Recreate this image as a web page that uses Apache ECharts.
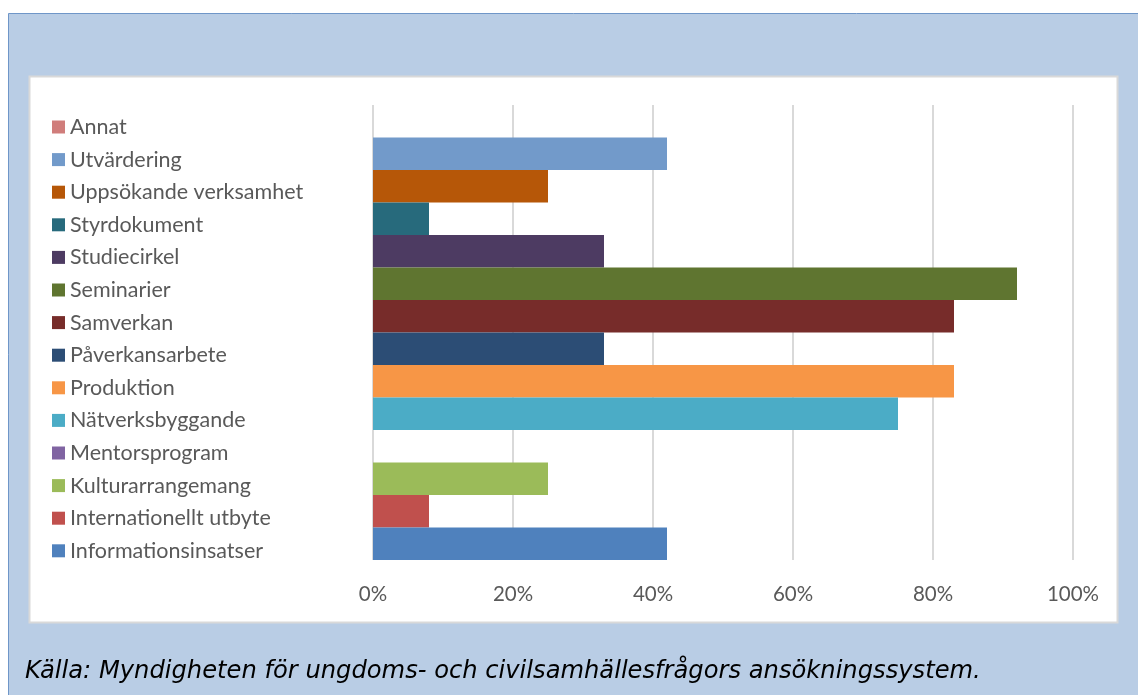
<!DOCTYPE html>
<html>
<head>
<meta charset="utf-8">
<script src="https://cdn.jsdelivr.net/npm/echarts@6/dist/echarts.min.js"></script>
<style>
  html, body { margin: 0; padding: 0; background: #fff; }
  #chart { width: 1138px; height: 695px; }
</style>
</head>
<body>
<div id="chart"></div>
<script>
// kategorier uppifrån och ned, som i förklaringen
const categories = [
  'Annat', 'Utvärdering', 'Uppsökande verksamhet', 'Styrdokument', 'Studiecirkel',
  'Seminarier', 'Samverkan', 'Påverkansarbete', 'Produktion', 'Nätverksbyggande',
  'Mentorsprogram', 'Kulturarrangemang', 'Internationellt utbyte', 'Informationsinsatser'
]
// andel i procent
const values = [0, 42, 25, 8, 33, 92, 83, 33, 83, 75, 0, 25, 8, 42]
const colors = [
  '#D07D7B', '#729ACA', '#B65708', '#276A7C', '#4D3B62',
  '#5F7530', '#772C2A', '#2C4D75', '#F79646', '#4BACC6',
  '#8064A2', '#9BBB59', '#C0504D', '#4F81BD'
]
const xTicks = { min: 0, max: 100, interval: 20 }
const caption = 'Källa: Myndigheten för ungdoms- och civilsamhällesfrågors ansökningssystem.'

const chart = echarts.init(document.getElementById('chart'))

const series = categories.map((name, i) => ({
  name: name,
  type: 'bar',
  barGap: '0%',
  barCategoryGap: '0%',
  itemStyle: { color: colors[i] },
  data: [values[i]]
}))

chart.setOption({
  animation: false,
  color: colors,
  graphic: [
    {
      type: 'rect', z: -10,
      shape: { x: 8.5, y: 13.5, width: 1140, height: 700 },
      style: { fill: '#B9CDE5', stroke: '#6F96C8', lineWidth: 1 }
    },
    {
      type: 'rect', z: -9,
      shape: { x: 29.5, y: 76.5, width: 1088, height: 546 },
      style: { fill: '#FFFFFF', stroke: '#D9D9D9', lineWidth: 2 }
    },
    {
      type: 'text', left: 25, top: 660,
      style: {
        text: caption,
        fill: '#000',
        font: 'italic 24.2px "DejaVu Sans"'
      }
    }
  ],
  legend: {
    orient: 'vertical',
    left: 47,
    top: 111,
    icon: 'rect',
    itemWidth: 13,
    itemHeight: 13,
    itemGap: 10.6,
    data: categories,
    selectedMode: false,
    textStyle: { color: '#595959', fontSize: 21.5, lineHeight: 20, fontFamily: 'Lato' }
  },
  grid: { left: 373, right: 65, top: 105, bottom: 135 },
  xAxis: {
    type: 'value',
    min: xTicks.min,
    max: xTicks.max,
    interval: xTicks.interval,
    axisLine: { show: false },
    axisTick: { show: false },
    axisLabel: {
      formatter: '{value}%', color: '#595959', fontSize: 20.5, margin: 24, fontFamily: 'Lato'
    },
    splitLine: { lineStyle: { color: '#D9D9D9', width: 2 } }
  },
  yAxis: {
    type: 'category',
    data: [''],
    axisLine: { show: false },
    axisTick: { show: false },
    axisLabel: { show: false }
  },
  series: series
})
</script>
</body>
</html>
